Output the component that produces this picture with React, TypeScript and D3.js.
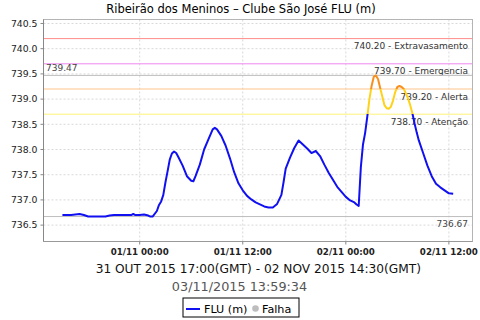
import React from "react";
import * as d3 from "d3";

// Hours since 31/10/2015 15:00 (local axis time) and level values (m)
const hours = [
  0, 1, 1.5, 2, 2.5, 3, 4, 5, 5.5, 6, 7, 8, 8.25, 8.5, 9, 9.5, 10, 10.25, 10.5, 11,
  11.25, 11.5, 11.75, 12, 12.25, 12.5, 12.75, 13, 13.25, 13.5, 14, 14.5, 15, 15.25, 15.5, 16,
  16.5, 17, 17.5, 17.75, 18, 18.5, 19, 19.5, 20, 20.5, 21, 21.5, 22, 22.5, 23, 23.5,
  24, 24.5, 25, 25.5, 25.75, 26, 26.5, 27, 27.5, 28, 28.5, 29, 29.5, 30, 30.5, 31,
  31.5, 32, 32.5, 33, 33.5, 34, 34.25, 34.5, 34.75, 35, 35.25, 35.5, 35.75, 36, 36.25, 36.5,
  36.75, 37, 37.25, 37.5, 37.75, 38, 38.25, 38.5, 38.75, 39, 39.25, 39.5, 39.75, 40, 40.25,
  40.5, 40.75, 41, 41.25, 41.5, 42, 42.5, 43, 43.5, 44, 44.5, 45, 45.5,
];
const levels = [
  736.7, 736.7, 736.71, 736.72, 736.7, 736.67, 736.67, 736.67, 736.69, 736.7, 736.7, 736.7, 736.72, 736.7, 736.7, 736.71, 736.69, 736.67, 736.67, 736.78,
  736.9, 736.97, 737.1, 737.35, 737.57, 737.8, 737.92, 737.96, 737.93, 737.85, 737.68, 737.47, 737.38, 737.37, 737.47, 737.7,
  738.0, 738.2, 738.4, 738.43, 738.4, 738.27, 738.08, 737.83, 737.55, 737.33, 737.19, 737.08, 737.01, 736.95, 736.91, 736.87,
  736.85, 736.85, 736.92, 737.1, 737.35, 737.62, 737.84, 738.03, 738.18, 738.1, 738.02, 737.93, 737.97, 737.87, 737.7, 737.54,
  737.4, 737.26, 737.16, 737.06, 736.99, 736.95, 736.91, 736.88, 737.65, 738.1, 738.33, 738.65, 739.0, 739.26, 739.44, 739.47,
  739.4, 739.22, 739.05, 738.88, 738.82, 738.81, 738.85, 738.97, 739.14, 739.24, 739.26, 739.24, 739.2, 739.11, 739.01,
  738.88, 738.72, 738.52, 738.34, 738.18, 737.93, 737.68, 737.47, 737.32, 737.25, 737.19, 737.13, 737.12,
];

const thresholdValues = [740.2, 739.7, 739.2, 738.7];
const thresholdNames = ["Extravasamento", "Emergencia", "Alerta", "Atenção"];
const thresholdColors = ["#ff8c8c", "#ee88ee", "#ffc48a", "#fff27a"];
const maxLevel = 739.47;
const minLevel = 736.67;
const yTicks = [736.5, 737.0, 737.5, 738.0, 738.5, 739.0, 739.5, 740.0, 740.5];

const title = "Ribeirão dos Meninos – Clube São José FLU (m)";
const subtitle = "31 OUT 2015 17:00(GMT) - 02 NOV 2015 14:30(GMT)";
const stamp = "03/11/2015 13:59:34";

const W = 480, H = 320;
const L = 43.5, R = 472.5, T = 19.5, B = 241.5;
const HOUR = 3600e3;
const start = Date.UTC(2015, 9, 31, 15, 0);
const font = "DejaVu Sans, sans-serif";

export default function App() {
  const x = d3.scaleUtc()
    .domain([new Date(start - 2.2 * HOUR), new Date(start + 47.75 * HOUR)])
    .range([L, R]);
  const y = d3.scaleLinear().domain([736.175, 740.579]).range([B, T]);
  const xTicks = x.ticks(d3.utcHour.every(12)!);
  const fmt = d3.utcFormat("%d/%m %H:%M");
  const data = hours.map((h, i) => ({ t: new Date(start + h * HOUR), v: levels[i] }));
  const line = d3.line<{ t: Date; v: number }>().x(d => x(d.t)).y(d => y(d.v));

  return (
    <svg width={W} height={H} style={{ position: "absolute", left: 0, top: 0, background: "#fff" }} fontFamily={font}>
      <defs>
        <linearGradient id="lvl" gradientUnits="userSpaceOnUse" x1={0} x2={0} y1={y(739.2)} y2={y(738.7)}>
          <stop offset="0" stopColor="#f7901e" />
          <stop offset="0" stopColor="#ffd21a" />
          <stop offset="1" stopColor="#ffd21a" />
          <stop offset="1" stopColor="#1010f0" />
        </linearGradient>
        <clipPath id="plot"><rect x={L} y={T} width={R - L} height={B - T} /></clipPath>
      </defs>
      <rect x={0} y={0} width={W} height={H} fill="#fff" />
      <text x={241} y={13} textAnchor="middle" fontSize={11.5} fill="#000">{title}</text>
      {/* grid */}
      {yTicks.map(t => (
        <line key={"gy" + t} x1={L} x2={R} y1={y(t)} y2={y(t)} stroke="#cfcfcf" strokeWidth={0.8} strokeDasharray="2,2" />
      ))}
      {xTicks.map(t => (
        <line key={"gx" + +t} x1={x(t)} x2={x(t)} y1={T} y2={B} stroke="#cfcfcf" strokeWidth={0.8} strokeDasharray="2,2" />
      ))}
      {/* thresholds */}
      {thresholdValues.map((v, i) => (
        <g key={"th" + v}>
          <line x1={L} x2={R} y1={y(v)} y2={y(v)} stroke={thresholdColors[i]} strokeWidth={1} />
          <text x={468} y={y(v) + 10.5} textAnchor="end" fontSize={9} fill="#333">
            {v.toFixed(2) + " - " + thresholdNames[i]}
          </text>
        </g>
      ))}
      <line x1={L} x2={R} y1={y(maxLevel)} y2={y(maxLevel)} stroke="#bdbdbd" strokeWidth={1} />
      <text x={46} y={y(maxLevel) - 4} fontSize={9} fill="#444">{maxLevel.toFixed(2)}</text>
      <line x1={L} x2={R} y1={y(minLevel)} y2={y(minLevel)} stroke="#bdbdbd" strokeWidth={1} />
      <text x={468} y={y(minLevel) + 10.5} textAnchor="end" fontSize={9} fill="#444">{minLevel.toFixed(2)}</text>
      {/* series */}
      <path d={line(data) || ""} fill="none" stroke="url(#lvl)" strokeWidth={2} strokeLinejoin="round" clipPath="url(#plot)" />
      {/* frame */}
      <rect x={L} y={T} width={R - L} height={B - T} fill="none" stroke="#b4b4b4" strokeWidth={1} />
      <line x1={L} x2={L} y1={T} y2={B} stroke="#888" strokeWidth={1} />
      <line x1={L} x2={R} y1={B} y2={B} stroke="#999" strokeWidth={1} />
      {/* y axis */}
      {yTicks.map(t => (
        <g key={"yt" + t}>
          <line x1={L - 3} x2={L} y1={y(t)} y2={y(t)} stroke="#888" />
          <text x={L - 6} y={y(t) + 3.3} textAnchor="end" fontSize={9.3} fill="#222">{t.toFixed(1)}</text>
        </g>
      ))}
      {/* x axis */}
      {xTicks.map(t => (
        <g key={"xt" + +t}>
          <line x1={x(t)} x2={x(t)} y1={B} y2={B + 3} stroke="#888" />
          <text x={x(t)} y={254.5} textAnchor="middle" fontSize={8.7} fontWeight="bold" fill="#222">{fmt(t)}</text>
        </g>
      ))}
      <text x={258.3} y={272.7} textAnchor="middle" fontSize={12.2} fill="#111">{subtitle}</text>
      <text x={239.5} y={290.7} textAnchor="middle" fontSize={12.8} fill="#555">{stamp}</text>
      {/* legend */}
      <rect x={183} y={298} width={116} height={19} fill="#fff" stroke="#000" strokeWidth={1} />
      <line x1={186} x2={200} y1={309} y2={309} stroke="#1010f0" strokeWidth={2} />
      <text x={204} y={312.5} fontSize={11.2} fill="#000">FLU (m)</text>
      <circle cx={255.5} cy={308.5} r={3.3} fill="#bdbdbd" />
      <text x={262} y={312.5} fontSize={11.2} fill="#000">Falha</text>
    </svg>
  );
}
